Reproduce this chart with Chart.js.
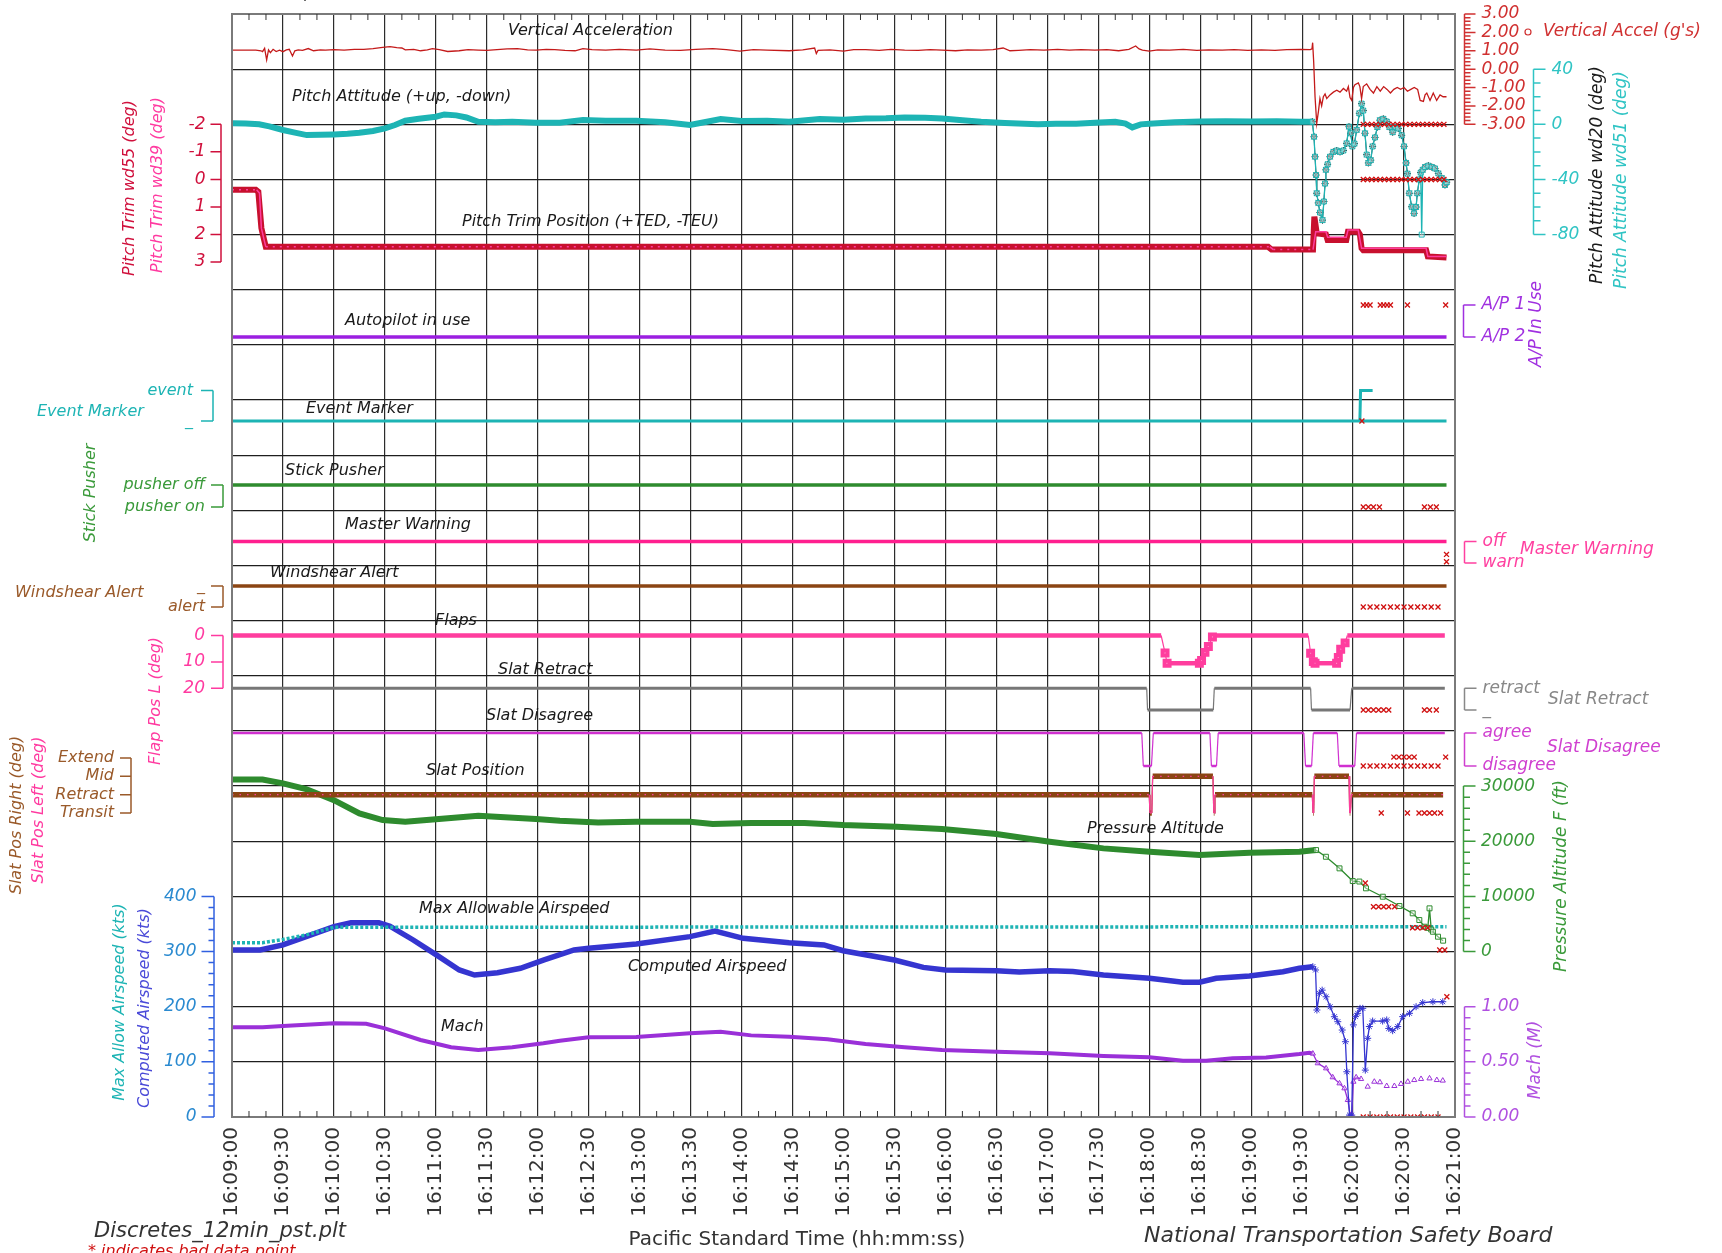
<!DOCTYPE html>
<html>
<head>
<meta charset="utf-8">
<title>Discretes 12min PST</title>
<script src="https://cdn.jsdelivr.net/npm/chart.js@4.4.1/dist/chart.umd.min.js"></script>
<style>
  html, body { margin: 0; padding: 0; background: #fff; }
  canvas { display: block; }
</style>
</head>
<body>
<canvas id="fdr" width="1722" height="1253"></canvas>
<script>
// FDR discretes, 16:09:00 - 16:21:00 PST. Times are seconds after 16:09:00.

// Vertical acceleration (g)
const accT = [0, 8, 14, 17, 18, 19.2, 20.4, 21.5, 22.6, 24.2,
  26, 28, 30, 32, 33.7, 35.6, 37, 39, 41.5, 44.9,
  48, 52, 55, 60, 66, 72, 77.5, 83, 88.7, 93,
  97, 100, 102, 107, 111, 115, 118, 122, 127, 133.7,
  139, 145, 150, 156, 162, 168, 174, 179, 185, 190,
  196, 202, 206.6, 212, 220, 228, 238, 246, 255, 264,
  273, 283, 291, 299, 307, 315, 328, 336, 343, 344,
  345, 352, 360, 366, 373, 381, 388, 396, 404, 411,
  418, 426, 433, 441, 448, 454, 458, 463, 470, 478,
  486, 493, 500, 508, 515, 522, 528, 532, 534, 536,
  540, 545, 552, 560, 568, 575, 583, 590, 598, 606,
  614, 621, 629, 634.8, 635.8, 636.2, 636.8, 637.6, 638.6, 639.6,
  640.5, 641.5, 642.5, 643.5, 644.5, 646.4, 648.4, 650.4, 652.3, 654.3,
  656.2, 657.2, 658.2, 659.2, 660.2, 661.1, 663.1, 664, 665, 666,
  668, 670, 672, 674, 676, 678, 680, 682, 684, 686,
  688, 690, 692, 694, 696, 698, 699.5, 701.4, 702.4, 703.4,
  705.3, 707.2, 709.2, 711.2, 713, 715];
const accV = [1.03, 1.03, 1.03, 1.0, 0.95, 1.13, 0.5, 1.05, 0.9, 1.08,
  0.96, 1.03, 0.95, 1.05, 1.08, 0.72, 1.0, 1.05, 1.02, 1.12,
  1.0, 1.05, 1.03, 1.06, 1.03, 1.08, 1.08, 1.12, 1.19, 1.22,
  1.17, 1.15, 1.05, 1.08, 1.0, 1.05, 1.12, 1.06, 0.96, 1.0,
  1.06, 1.04, 1.02, 1.06, 1.1, 1.12, 1.05, 1.04, 1.08, 1.06,
  1.02, 1.0, 1.12, 1.06, 1.04, 1.08, 1.04, 1.1, 1.04, 1.02,
  1.08, 1.12, 1.06, 0.98, 1.06, 1.04, 1.0, 1.05, 1.15, 0.85,
  1.02, 1.05, 0.98, 1.06, 1.06, 1.02, 1.08, 1.04, 1.02, 1.06,
  1.04, 1.0, 1.05, 1.04, 1.06, 1.15, 1.0, 1.02, 1.06, 1.04,
  1.08, 1.03, 1.06, 1.03, 1.06, 1.0, 1.08, 1.26, 1.1, 1.03,
  0.98, 1.05, 1.03, 1.08, 1.02, 1.05, 1.03, 1.06, 1.02, 1.05,
  1.02, 1.06, 1.08, 1.06, 1.1, 1.44, 0.4, -1.5, -2.95, -2.3,
  -1.6, -2.0, -1.5, -1.35, -1.6, -1.4, -1.25, -1.15, -1.25, -1.05,
  -1.2, -0.95, -1.55, -1.7, -1.0, -0.85, -0.75, -0.95, -1.6, -0.95,
  -0.8, -1.1, -1.3, -0.95, -1.2, -0.95, -1.1, -1.3, -1.1, -1.0,
  -1.1, -1.0, -1.2, -1.1, -1.0, -1.1, -1.7, -1.75, -1.4, -1.3,
  -1.7, -1.3, -1.7, -1.4, -1.5, -1.5];

// Pitch attitude (deg)
const pitchT = [0, 8, 16, 22, 30, 37, 44, 52, 60, 68,
  75, 83, 90, 96, 102, 110, 120, 125, 132, 138,
  145, 155, 165, 179, 193, 206.6, 220, 238, 255, 269.6,
  278, 287.7, 300, 315, 328, 346, 360, 373, 385, 396,
  408, 418, 430, 441, 455, 474.5, 485, 497, 508, 520,
  526, 530, 535, 540, 555, 570, 585, 600, 615, 629,
  636, 637, 637.6, 638.2, 638.6, 639.5, 640.5, 642, 642.8, 643.5,
  644, 645, 646.4, 648.4, 650.4, 652.3, 654.3, 656.2, 657.6, 658.6,
  659.6, 660.8, 662.1, 663.7, 665, 666, 667, 668, 669, 670.4,
  671.5, 672.9, 674.3, 675.8, 677.8, 679.8, 681.4, 683.3, 684.7, 686.6,
  688.6, 690, 691.2, 692, 693.1, 694.5, 695.9, 697.1, 697.8, 699,
  699.8, 700.4, 701, 702.4, 704.3, 706.3, 708.2, 710.2, 712.2, 714.1,
  715.1];
const pitchV = [0.8, 0.6, 0.0, -1.5, -4.1, -6, -7.8, -7.6, -7.3, -6.8,
  -6.1, -4.8, -2.9, -0.5, 2.6, 4.0, 5.5, 7.2, 6.5, 5,
  1.9, 1.5, 1.8, 1.2, 1.2, 3.1, 2.6, 2.6, 1.5, -0.5,
  1.5, 3.8, 2.5, 2.6, 1.9, 3.8, 3.4, 4.3, 4.5, 5.0,
  4.8, 4.3, 3, 1.9, 1, 0, 0.5, 0.5, 1.2, 1.9,
  0.5, -2.2, 0.0, 0.5, 1.5, 2, 2.3, 2, 2.3, 1.9,
  1.9, -9, -23.5, -36.8, -50, -57, -64, -69.5, -56, -43,
  -33, -29, -23.5, -20, -19, -20, -19, -13.8, -1.7, -6.5,
  -16, -14, -4, 8, 15, 10, -6.5, -22, -28, -26,
  -16, -9.5, -2, 3, 4, 2, -2, -5.7, -2, -3,
  -8, -16, -28, -35.8, -50, -59.8, -64.6, -60, -50, -40,
  -35, -80, -33, -31, -30, -31, -32, -35.6, -39, -44,
  -42];

// Pitch trim (deg, +TED)
const trim55T = [0, 14, 15.5, 17.3, 18.8, 19.9, 610, 612, 636.4, 637.2, 638.6, 644, 645, 656, 657, 663, 664, 665, 666, 703, 704, 715];
const trim55V = [0.38, 0.38, 0.45, 1.77, 2.17, 2.45, 2.45, 2.55, 2.55, 1.35, 1.96, 2.0, 2.2, 2.2, 1.9, 1.9, 2.0, 2.5, 2.57, 2.57, 2.8, 2.84];
const trim39T = [0, 14.5, 16.2, 17.3, 18.8, 19.9, 611, 613, 636.4, 638, 644, 645, 656, 657, 663, 665, 703, 704, 715];
const trim39V = [0.38, 0.38, 0.5, 1.77, 2.17, 2.45, 2.45, 2.55, 2.55, 1.9, 1.9, 2.1, 2.1, 1.84, 1.84, 2.5, 2.5, 2.8, 2.8];

// Discretes
const apT = [0, 715], apV = [0, 0];                     // 1 = A/P 1, 0 = A/P 2
const evT = [0, 664, 664.4, 671.5], evV = [0, 0, 1, 1];  // 1 = event
const evLowT = [664.4, 715], evLowV = [0, 0];
const pushT = [0, 715], pushV = [1, 1];                 // 1 = pusher off
const mwT = [0, 715], mwV = [1, 1];                     // 1 = off, 0 = warn
const wsT = [0, 715], wsV = [0, 0];                     // 1 = alert
const flapT = [0, 547, 549.3, 550.5, 569.5, 570.8, 572.8, 574.8, 577.2, 578.7,
  633.6, 635, 636.6, 637.6, 650.3, 651.3, 652.7, 655.3, 656.6, 714];
const flapV = [0, 0, 6.6, 10.5, 10.5, 9.5, 6.4, 4.2, 0.6, 0,
  0, 6.7, 9.9, 10.5, 10.5, 8.3, 5.2, 2.8, 0, 0];
const sretT = [0, 538.5, 539, 577.7, 578.3, 635, 635.5, 658.2, 659.2, 714];
const sretV = [1, 1, 0, 0, 1, 1, 0, 0, 1, 1];           // 1 = retract
const sdisT = [0, 535.6, 536.5, 541.3, 542.4, 575.7, 576.6, 579.6, 580.6, 631, 632, 635.6, 636.6, 650.7, 651.7, 661, 662, 714];
const sdisV = [1, 1, 0, 0, 1, 1, 0, 0, 1, 1, 0, 0, 1, 1, 0, 0, 1, 1]; // 1 = agree
const sposT = [0, 540, 540.4, 541.5, 542, 577.5, 578, 578.4, 578.7, 636, 636.4, 636.8, 637.2, 657.6, 658, 658.4, 659, 713];
const sposV = [1, 1, 0, 0, 2, 2, 0, 0, 1, 1, 0, 0, 2, 2, 0, 0, 1, 1]; // 3 Extend, 2 Mid, 1 Retract, 0 Transit

// Pressure altitude (ft)
const altT = [0, 18, 30, 43.6, 60, 75, 88.7, 102, 120, 145,
  179, 193, 215.5, 238, 269.6, 283, 305.6, 337, 359.7, 391.4,
  418, 450, 481.4, 513, 540.2, 569.6, 599, 628.4, 638.2, 644,
  652, 659.8, 663.7, 667.6, 677.5, 687.3, 695.1, 699, 702, 704,
  705, 706, 707, 710, 713];
const altV = [31200, 31200, 30500, 29460, 27460, 25050, 23840, 23530, 23970, 24620,
  24020, 23710, 23420, 23530, 23530, 23120, 23300, 23300, 22930, 22630,
  22210, 21300, 19910, 18710, 18100, 17500, 17920, 18100, 18400, 17190,
  15090, 12790, 12700, 11470, 9950, 8260, 6940, 5720, 4510, 4300,
  7840, 4000, 3600, 2700, 1980];

// Airspeeds (kts)
const vmoT = [0, 18, 30, 43.6, 60, 715];
const vmoV = [316, 316, 322, 330, 344, 345];
const casT = [0, 16.6, 30, 43.6, 60, 70, 86.5, 93, 106.7, 120.3,
  133.8, 142.8, 156.3, 169.8, 183.3, 201.4, 210, 238, 269.6, 284.4,
  301, 328, 348.5, 359.8, 390, 407, 420, 450, 463.5, 481.4,
  495, 513, 540.2, 559.8, 569.6, 579.4, 599, 618.7, 628.4, 636.3,
  637.9, 638.7, 640.2, 641.8, 644.1, 646.5, 649, 651, 653.6, 655.5,
  656.3, 657.9, 659.2, 660.2, 661.4, 662.7, 664.1, 665.7, 667.2, 668.6,
  669.6, 671.5, 677.4, 679.8, 681, 683.3, 686.3, 689.2, 693.2, 697.1,
  701, 707, 712.8];
const casV = [302.8, 302.8, 312, 327, 345, 352, 352, 346, 321, 294,
  266.6, 257.5, 261.7, 269.6, 284.6, 302.8, 306, 313.7, 327, 337,
  324, 316, 312, 301.5, 284.6, 271.3, 266.6, 265.3, 263, 265,
  264, 257.5, 251.5, 244.3, 244.3, 251.5, 255.6, 263.5, 269.6, 272.6,
  266.6, 194, 224.3, 230, 218, 200, 181.8, 172.8, 157.7, 136.5,
  82, 3.5, 3.5, 167, 182, 188, 197, 197, 85, 142.7,
  164, 174, 174, 176, 160.6, 156.5, 164, 182, 188, 200,
  207.3, 209, 209];

// Mach
const machT = [0, 18, 30, 60, 79, 90, 111, 129, 145, 165,
  183.3, 193, 210, 238, 269.6, 287.7, 305.6, 328, 350.6, 373,
  396, 418, 450, 481.4, 513, 540.2, 559.8, 573.5, 589.2, 608.8,
  628.4, 634.3, 636.3, 639.2, 644.1, 648, 652, 654.9, 656.9, 658.3,
  659.2, 660.2, 661.8, 664.7];
const machV = [0.813, 0.813, 0.825, 0.85, 0.845, 0.804, 0.698, 0.632, 0.607, 0.632,
  0.668, 0.692, 0.722, 0.725, 0.759, 0.773, 0.74, 0.728, 0.704, 0.662,
  0.632, 0.607, 0.592, 0.577, 0.553, 0.541, 0.51, 0.51, 0.532, 0.54,
  0.571, 0.583, 0.575, 0.487, 0.441, 0.36, 0.305, 0.26, 0.154, 0.018,
  0.018, 0.32, 0.36, 0.345];
const machPtT = [668.6, 672.5, 675.8, 679.8, 684.3, 688.2, 692.2, 696, 700, 705, 709.3, 712.8];
const machPtV = [0.275, 0.32, 0.315, 0.281, 0.281, 0.3, 0.32, 0.335, 0.345, 0.35, 0.335, 0.33];

// bad data points (red x)
const badPitchT = [666, 668.5, 671, 673.5, 676, 678.5, 681, 683.5, 686, 688.5, 691, 693.5, 696, 698.5, 701, 703.5, 706, 708.5, 711, 713.5];
const badRowT = [666, 670, 674, 678, 682, 686, 690, 694, 698, 702, 706, 710];
const badApT = [666, 668, 670, 676, 678, 680, 682, 692, 714.5];
const badPushT = [666, 669, 672, 675.5, 702, 705.5, 709];
const badSretT = [666, 669, 672, 675, 678, 681, 702, 705, 709];
const badSdisT = [684, 687, 690, 693, 696, 714.5];
const badSposT = [676.6, 692, 698.8, 702, 705, 708, 711.5];
const badAltT = [667.2, 672, 675, 678, 681, 684.5, 695, 698, 701, 704, 711, 714];
const badAltV = [12430, 8130, 8130, 8130, 8130, 8130, 4330, 4330, 4330, 4330, 290, 290];

// axis tick values / labels
const timeTicks = 30;
const accTicks = [3, 2, 1, 0, -1, -2, -3];
const pitchTicks = [40, 0, -40, -80];
const trimTicks = [-2, -1, 0, 1, 2, 3];
const flapTicks = [0, 10, 20];
const altTicks = [30000, 20000, 10000, 0];
const ktsTicks = [400, 300, 200, 100, 0];
const machTicks = [1, 0.5, 0];
const slatPosNames = ['Extend', 'Mid', 'Retract', 'Transit'];

// ---- layout ----
const TOP = 14, BOTTOM = 1117, EVT = 636;
const FONT = '"DejaVu Sans", sans-serif';
const it = s => 'italic ' + s + 'px ' + FONT;
const RED = '#d01010';

// y axis whose value va sits at pixel pa and vb at pb
function band(va, pa, vb, pb) {
  const k = (pb - pa) / (vb - va);
  const a = va + (TOP - pa) / k;
  const b = va + (BOTTOM - pa) / k;
  return { type: 'linear', display: false, bounds: 'data', min: Math.min(a, b), max: Math.max(a, b), reverse: k > 0 };
}

function line(ts, vs, axis, color, width, more) {
  return Object.assign({
    data: ts.map((t, i) => ({ x: t, y: vs[i] })),
    yAxisID: axis, borderColor: color, backgroundColor: color,
    borderWidth: width, pointRadius: 0, tension: 0, fill: false
  }, more || {});
}
function bad(ts, v, axis) {
  return { data: ts.map((t, i) => ({ x: t, y: Array.isArray(v) ? v[i] : v })), yAxisID: axis, showLine: false,
    pointStyle: 'crossRot', pointRadius: 3.5, pointBorderWidth: 1.3, borderColor: RED, backgroundColor: RED };
}
const thick = (w, thin) => ({ segment: { borderWidth: c => c.p0.parsed.x >= EVT ? thin : w } });
const marks = (style, r) => ({ pointStyle: style, pointRadius: c => (c.raw && c.raw.x >= EVT ? r : 0),
  pointBorderWidth: 1, pointBackgroundColor: 'rgba(255,255,255,0.4)' });
const flat = c => c.p0.parsed.y === c.p1.parsed.y;

const datasets = [
  bad(badPitchT, 0, 'pitch'), bad(badPitchT, -40, 'pitch'),
  bad(badApT, 1, 'ap'), bad([665.2], 0, 'evt'), bad(badPushT, 0, 'push'),
  bad([715, 715], [0.4, 0.06], 'mw'), bad(badRowT, 1, 'ws'), bad(badSretT, 0, 'sret'),
  bad(badRowT, 0, 'sdis'), bad(badSdisT, 0.27, 'sdis'), bad(badSposT, 0, 'spos'),
  bad(badAltT, badAltV, 'alt'), bad(badRowT, 0, 'mach'), bad([715.2], 218, 'kts'),
  line(trim39T, trim39V, 'trim', '#ff3d9e', 1.5, { segment: { borderDash: c => (c.p0.parsed.x < EVT && flat(c) ? [2, 5] : []) } }),
  line(sposT, sposV, 'spos', '#ff3d9e', 1.2, { segment: { borderDash: c => (flat(c) ? [1.5, 6] : []) } }),
  line(accT, accV, 'acc', '#c41a1a', 1.3),
  line(pitchT, pitchV, 'pitch', '#1db4b4', 6, Object.assign(thick(6, 1.3), marks('rect', 3.5))),
  line(pitchT.filter((t, i) => pitchV[i] > -80), pitchV.filter(v => v > -80), 'pitch', '#111', 1,
    Object.assign(marks('star', 3.5), { segment: { borderDash: c => (c.p0.parsed.x >= EVT ? [] : [2, 10]),
      borderWidth: c => (c.p0.parsed.x >= EVT ? 0.8 : 1.2) } })),
  line(trim55T, trim55V, 'trim', '#c8102e', 6),
  line(apT, apV, 'ap', '#9b1fe0', 3.5),
  line(evT, evV, 'evt', '#1db4b4', 3),
  line(evLowT, evLowV, 'evt', '#1db4b4', 3),
  line(pushT, pushV, 'push', '#2e8b2e', 3.5),
  line(mwT, mwV, 'mw', '#ff1f8f', 3.5),
  line(wsT, wsV, 'ws', '#8b4513', 3.5),
  line(flapT, flapV, 'flap', '#ff3d9e', 4, { segment: { borderWidth: c => (flat(c) ? 4.5 : 1.2) },
    pointStyle: 'rect', pointRadius: c => (c.raw && c.raw.y > 0 ? 3.5 : 0), pointBackgroundColor: 'rgba(255,255,255,0.4)' }),
  line(sretT, sretV, 'sret', '#777', 3, { segment: { borderWidth: c => (flat(c) ? 3 : 1.2) } }),
  line(sdisT, sdisV, 'sdis', '#d030d0', 2.5, { segment: { borderWidth: c => (flat(c) ? 2.5 : 1.2) } }),
  line(sposT, sposV, 'spos', '#8b4513', 5.5, { segment: { borderWidth: c => (flat(c) ? 5.5 : 1.2) } }),
  line(altT, altV, 'alt', '#2e8b2e', 6, Object.assign(thick(6, 1.3), marks('rect', 3.5))),
  line(vmoT, vmoV, 'kts', '#1db4b4', 3.5, { segment: { borderDash: () => [3, 2] } }),
  line(casT, casV, 'kts', '#3535d0', 5.5, Object.assign(thick(5.5, 1.3), marks('star', 3.5))),
  line(machT, machV, 'mach', '#9a30d8', 4, Object.assign(thick(4, 1.3), marks('triangle', 3))),
  line(machPtT, machPtV, 'mach', '#9a30d8', 1, { showLine: false, pointStyle: 'triangle', pointRadius: 3,
    pointBorderWidth: 1, pointBackgroundColor: 'rgba(255,255,255,0.4)' })
];

function clock(s) {
  const tot = 16 * 3600 + 9 * 60 + s;
  const p = n => String(n).padStart(2, '0');
  return Math.floor(tot / 3600) + ':' + p(Math.floor(tot / 60) % 60) + ':' + p(tot % 60);
}

function drawAxis(ctx, sc, o) {
  const ys = o.vals.map(v => sc.getPixelForValue(v));
  const mins = (o.minor || []).map(v => sc.getPixelForValue(v));
  const all = ys.concat(mins);
  ctx.strokeStyle = o.color; ctx.lineWidth = 1.5;
  ctx.beginPath();
  ctx.moveTo(o.x, Math.min(...all)); ctx.lineTo(o.x, Math.max(...all));
  ys.forEach(y => { ctx.moveTo(o.x, y); ctx.lineTo(o.x + o.dir * o.len, y); });
  mins.forEach(y => { ctx.moveTo(o.x, y); ctx.lineTo(o.x + o.dir * o.minLen, y); });
  ctx.stroke();
  ctx.fillStyle = o.text || o.color;
  ctx.font = o.font || it(16);
  ctx.textAlign = o.dir < 0 ? 'right' : 'left';
  ctx.textBaseline = 'middle';
  ys.forEach((y, i) => ctx.fillText(o.labels[i], o.x + o.dir * (o.len + o.gap), y));
}
function steps(a, b, d) { const r = []; for (let v = a; v <= b + 1e-9; v += d) r.push(+v.toFixed(4)); return r; }
function text(ctx, s, x, y, color, font, align) {
  ctx.fillStyle = color; ctx.font = font || it(16);
  ctx.textAlign = align || 'left'; ctx.textBaseline = 'middle';
  ctx.fillText(s, x, y);
}
function vtext(ctx, s, x, y, color, font) {
  ctx.save(); ctx.translate(x, y); ctx.rotate(-Math.PI / 2);
  text(ctx, s, 0, 0, color, font, 'center');
  ctx.restore();
}

const seriesNames = [
  ['Vertical Acceleration', 508, 31], ['Pitch Attitude (+up, -down)', 292, 97],
  ['Pitch Trim Position (+TED, -TEU)', 462, 222], ['Autopilot in use', 345, 321],
  ['Event Marker', 306, 409], ['Stick Pusher', 285, 471], ['Master Warning', 345, 525],
  ['Windshear Alert', 270, 573], ['Flaps', 435, 621], ['Slat Retract', 498, 670],
  ['Slat Disagree', 486, 716], ['Slat Position', 426, 771], ['Pressure Altitude', 1087, 829],
  ['Max Allowable Airspeed', 419, 909], ['Computed Airspeed', 628, 967], ['Mach', 441, 1027]
];

const decor = {
  id: 'decor',
  afterDraw(chart) {
    const { ctx, chartArea: a, scales: s } = chart;
    ctx.save();
    ctx.strokeStyle = '#7a7a7a'; ctx.lineWidth = 2;
    ctx.strokeRect(a.left, a.top, a.right - a.left, a.bottom - a.top);
    ctx.strokeStyle = '#333'; ctx.lineWidth = 1;
    ctx.beginPath();
    for (let t = 10; t < 720; t += 10) {
      if (t % 30 === 0) continue;
      const x = s.x.getPixelForValue(t);
      ctx.moveTo(x, a.top); ctx.lineTo(x, a.top + 6);
      ctx.moveTo(x, a.bottom); ctx.lineTo(x, a.bottom - 6);
    }
    ctx.stroke();

    seriesNames.forEach(n => text(ctx, n[0], n[1], n[2], '#1a1a1a'));

    // left side
    drawAxis(ctx, s.trim, { x: 221, dir: -1, len: 10.5, gap: 5, vals: trimTicks, labels: trimTicks.map(String), color: '#d0103c', font: it(17) });
    vtext(ctx, 'Pitch Trim wd55 (deg)', 130, 188, '#d0103c');
    vtext(ctx, 'Pitch Trim wd39 (deg)', 158, 185, '#ff3aa0');
    drawAxis(ctx, s.evt, { x: 213, dir: -1, len: 12, gap: 8, vals: [1, 0], labels: ['event', '_'], color: '#1db4b4' });
    text(ctx, 'Event Marker', 37, 412, '#1db4b4');
    drawAxis(ctx, s.push, { x: 223, dir: -1, len: 12, gap: 6, vals: [1, 0], labels: ['pusher off', 'pusher on'], color: '#3a9a3a' });
    vtext(ctx, 'Stick Pusher', 91, 493, '#3a9a3a');
    drawAxis(ctx, s.ws, { x: 223, dir: -1, len: 12, gap: 6, vals: [0, 1], labels: ['_', 'alert'], color: '#9a5a2a' });
    text(ctx, 'Windshear Alert', 15, 593, '#9a5a2a');
    drawAxis(ctx, s.flap, { x: 223, dir: -1, len: 12, gap: 6, vals: flapTicks, labels: flapTicks.map(String), color: '#ff3aa0', font: it(17) });
    vtext(ctx, 'Flap Pos L (deg)', 156, 701, '#ff3aa0');
    drawAxis(ctx, s.spos, { x: 131, dir: -1, len: 11, gap: 6, vals: [3, 2, 1, 0], labels: slatPosNames, color: '#9a5a2a' });
    vtext(ctx, 'Slat Pos Right (deg)', 17, 815, '#9a5a2a');
    vtext(ctx, 'Slat Pos Left (deg)', 39, 810, '#ff3aa0');
    drawAxis(ctx, s.kts, { x: 214, dir: -1, len: 12.5, gap: 5, minLen: 5.5, vals: ktsTicks, labels: ktsTicks.map(String),
      minor: steps(0, 400, 20).filter(v => v % 100), color: '#3060e0', text: '#2a8ad0', font: it(17) });
    vtext(ctx, 'Max Allow Airspeed (kts)', 120, 1002, '#1db4b4');
    vtext(ctx, 'Computed Airspeed (kts)', 145, 1008, '#4a4ad8');

    // right side
    drawAxis(ctx, s.acc, { x: 1464.5, dir: 1, len: 11, minLen: 6, gap: 6, vals: accTicks, labels: accTicks.map(v => v.toFixed(2)),
      minor: steps(-3, 3, 0.2).filter(v => Math.abs(v - Math.round(v)) > 0.01), color: '#d03030', font: it(17) });
    ctx.strokeStyle = '#d03030'; ctx.lineWidth = 1.2;
    ctx.beginPath(); ctx.arc(1528, 32, 3, 0, Math.PI * 2); ctx.stroke();
    text(ctx, "Vertical Accel (g's)", 1543, 32, '#d03030', it(17));
    drawAxis(ctx, s.pitch, { x: 1533.5, dir: 1, len: 12, minLen: 7, gap: 6, vals: pitchTicks, labels: pitchTicks.map(String),
      minor: steps(-80, 40, 10).filter(v => v % 40), color: '#30c4c4', font: it(17) });
    vtext(ctx, 'Pitch Attitude wd20 (deg)', 1598, 175, '#1a1a1a', it(17));
    vtext(ctx, 'Pitch Attitude wd51 (deg)', 1622, 180, '#30c4c4', it(17));
    drawAxis(ctx, s.ap, { x: 1463.5, dir: 1, len: 12, gap: 6, vals: [1, 0], labels: ['A/P 1', 'A/P 2'], color: '#a030e0', font: it(17) });
    vtext(ctx, 'A/P In Use', 1537, 324, '#a030e0', it(17));
    drawAxis(ctx, s.mw, { x: 1464.5, dir: 1, len: 12, gap: 6, vals: [1, 0], labels: ['off', 'warn'], color: '#ff40a0', font: it(17) });
    text(ctx, 'Master Warning', 1520, 550, '#ff40a0', it(17));
    drawAxis(ctx, s.sret, { x: 1464.5, dir: 1, len: 12, gap: 6, vals: [1, 0], labels: ['retract', '_'], color: '#888', font: it(17) });
    text(ctx, 'Slat Retract', 1548, 700, '#888', it(17));
    drawAxis(ctx, s.sdis, { x: 1464.5, dir: 1, len: 12, gap: 6, vals: [1, 0], labels: ['agree', 'disagree'], color: '#d040d0', font: it(17) });
    text(ctx, 'Slat Disagree', 1547, 748, '#d040d0', it(17));
    drawAxis(ctx, s.alt, { x: 1463.5, dir: 1, len: 12, minLen: 6.5, gap: 5.5, vals: altTicks, labels: altTicks.map(String),
      minor: steps(0, 30000, 2000).filter(v => v % 10000), color: '#3a9a3a', font: it(17) });
    vtext(ctx, 'Pressure Altitude F (ft)', 1562, 876, '#3a9a3a', it(17));
    drawAxis(ctx, s.mach, { x: 1464.5, dir: 1, len: 11, minLen: 6, gap: 6, vals: machTicks, labels: machTicks.map(v => v.toFixed(2)),
      minor: steps(0, 1, 0.1).filter(v => Math.abs(v - 0.5) > 0.01 && v > 0.01 && v < 0.99), color: '#b050e0', font: it(17) });
    vtext(ctx, 'Mach (M)', 1536, 1060, '#b050e0', it(17));

    // footer
    text(ctx, 'AS 261, Alaska', 233, -6, '#333', it(20));
    text(ctx, 'Discretes_12min_pst.plt', 94, 1232, '#333', it(21));
    text(ctx, '* indicates bad data point', 88, 1252, RED, it(16));
    text(ctx, 'Pacific Standard Time (hh:mm:ss)', 797, 1240, '#333', '20px ' + FONT, 'center');
    text(ctx, 'National Transportation Safety Board', 1144, 1236, '#333', it(22));
    ctx.restore();
  }
};

new Chart(document.getElementById('fdr'), {
  type: 'line',
  data: { datasets },
  options: {
    responsive: false,
    animation: false,
    events: [],
    layout: { padding: { left: 232, right: 267, top: TOP, bottom: 0 } },
    plugins: { legend: { display: false }, tooltip: { enabled: false } },
    scales: {
      x: {
        type: 'linear', position: 'bottom', min: 0, max: 720,
        ticks: { stepSize: timeTicks, autoSkip: false, minRotation: 90, maxRotation: 90, padding: 10,
          color: '#333', font: { family: FONT, size: 20 }, callback: v => clock(v) },
        grid: { color: '#2c2c2c', lineWidth: 1.2, drawTicks: false },
        border: { display: false },
        afterFit: sc => { sc.height = 1253 - BOTTOM; }
      },
      rows: {
        type: 'linear', position: 'left', min: 0, max: 20,
        ticks: { stepSize: 1, display: false },
        grid: { color: '#1e1e1e', lineWidth: 1.3, drawTicks: false },
        border: { display: false },
        afterFit: sc => { sc.width = 0; }
      },
      acc: band(3, 14, -3, 124.3),
      pitch: band(40, 69.2, -80, 234.6),
      trim: band(-2, 124.3, 3, 262),
      ap: band(1, 305, 0, 337),
      evt: band(1, 390.5, 0, 421),
      push: band(1, 485, 0, 507),
      mw: band(1, 541.5, 0, 563),
      ws: band(0, 586, 1, 607),
      flap: band(0, 635.5, 20, 688.3),
      sret: band(1, 688.3, 0, 710),
      sdis: band(1, 733, 0, 766),
      spos: band(3, 758, 0, 813),
      alt: band(30000, 786.1, 0, 951.6),
      kts: band(400, 896.4, 0, 1117),
      mach: band(1, 1006.7, 0, 1117)
    }
  },
  plugins: [decor]
});
</script>
</body>
</html>
